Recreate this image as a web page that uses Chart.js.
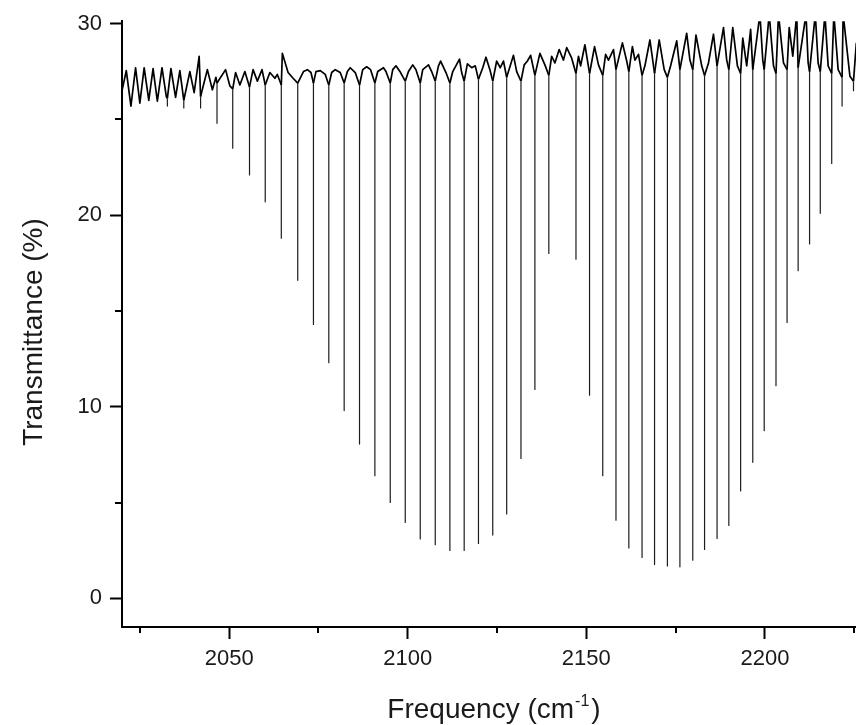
<!DOCTYPE html>
<html lang="en">
<head>
    <meta charset="UTF-8">
    <title>CO IR spectrum</title>
    <script src="https://cdn.jsdelivr.net/npm/chart.js@4.4.1/dist/chart.umd.min.js"></script>
    <style>
        * { margin: 0; padding: 0; box-sizing: border-box; }
        body { background: #fff; width: 856px; height: 725px; overflow: hidden; }
        #spectrum { display: block; }
    </style>
</head>
<body>
    <canvas id="spectrum" width="856" height="725"></canvas>

    <script>
        // Absorption lines (cm-1, % at the top of the narrow core, % at the bottom)
        const lineFreq = [2032.7, 2037.3, 2042.0, 2046.6, 2051.0, 2055.7, 2060.1, 2064.6, 2069.2, 2073.6,
            2077.9, 2082.2, 2086.5, 2090.8, 2095.1, 2099.3, 2103.5, 2107.7, 2111.8, 2115.8,
            2119.8, 2123.8, 2127.7, 2131.7, 2135.6, 2139.5,
            2147.1, 2150.9, 2154.6, 2158.3, 2161.9, 2165.6, 2169.1, 2172.7, 2176.2, 2179.8,
            2183.1, 2186.6, 2189.9, 2193.2, 2196.6, 2199.8, 2203.1, 2206.2, 2209.3, 2212.5,
            2215.5, 2218.7, 2221.6, 2224.8];
        const lineTop = [26.1, 26.0, 26.2, 26.9, 26.6, 26.7, 26.8, 26.8, 26.9, 26.9,
            26.8, 26.9, 26.8, 26.9, 26.9, 27.0, 26.9, 27.0, 26.9, 27.0,
            27.1, 27.0, 27.2, 27.0, 27.3, 27.3,
            27.4, 27.4, 27.3, 27.6, 27.5, 27.3, 27.4, 27.2, 27.6, 27.6,
            27.3, 27.8, 27.6, 27.4, 27.6, 27.6, 27.4, 27.6, 27.7, 27.5,
            27.5, 27.4, 27.2, 27.0];
        const lineMin = [25.7, 25.6, 25.6, 24.8, 23.5, 22.1, 20.7, 18.8, 16.6, 14.3,
            12.3, 9.8, 8.05, 6.4, 5.0, 3.96, 3.1, 2.8, 2.5, 2.5,
            2.86, 3.3, 4.4, 7.3, 10.9, 18.0,
            17.7, 10.6, 6.4, 4.08, 2.63, 2.13, 1.76, 1.69, 1.64, 1.99,
            2.55, 3.12, 3.8, 5.6, 7.1, 8.75, 11.1, 14.4, 17.1, 18.5,
            20.1, 22.7, 25.7, 26.5];

        // baseline between the lines: fringe peaks and troughs
        const fringeFreq = [2020.0, 2021.2, 2022.5, 2023.8, 2025.0, 2026.2, 2027.5, 2028.7, 2029.9, 2031.2,
            2032.4, 2033.7, 2035.0, 2036.2, 2039.0, 2040.2, 2041.6, 2043.9, 2045.3, 2046.3,
            2049.0, 2050.2, 2051.8, 2053.0, 2054.4, 2056.7, 2057.9, 2059.2, 2061.4, 2062.8,
            2063.5, 2064.9, 2066.5, 2067.9,
            2070.8, 2071.9, 2072.9, 2074.3, 2075.5, 2076.9, 2078.7, 2079.7, 2081.1, 2083.1,
            2083.9, 2085.3, 2087.4, 2088.5, 2089.6, 2091.6, 2093.2, 2093.9, 2095.8, 2096.7,
            2098.0, 2100.2, 2101.4, 2102.3, 2104.2, 2105.8, 2106.7, 2108.6, 2109.2, 2110.7,
            2112.6, 2114.5, 2115.1, 2116.7, 2117.9, 2118.9, 2121.0, 2121.9, 2123.0,
            2124.9, 2125.9, 2126.8, 2129.6, 2130.5, 2132.6, 2133.5, 2134.4, 2137.0, 2138.4,
            2140.3, 2141.2, 2142.4, 2143.6, 2144.5, 2145.9, 2147.8, 2148.4, 2149.6, 2152.3,
            2153.4, 2155.4, 2156.2, 2157.6, 2160.1, 2161.3, 2162.9, 2163.6, 2164.6, 2166.4,
            2167.8, 2170.4, 2171.8, 2173.6, 2175.3, 2178.1, 2179.0, 2180.7, 2182.3, 2184.2,
            2185.6, 2188.4, 2189.3, 2191.0, 2192.3, 2193.8, 2194.9, 2196.0, 2198.6, 2199.4,
            2201.2, 2202.4, 2203.8, 2205.2, 2206.8, 2207.8, 2208.9, 2211.5, 2212.1, 2214.1,
            2214.9, 2216.8, 2217.7, 2219.3, 2220.5, 2221.9, 2223.8, 2225.6];
        const fringeT = [26.5, 27.55, 25.7, 27.7, 25.85, 27.7, 26.0, 27.65, 25.95, 27.7,
            26.2, 27.65, 26.15, 27.55, 27.5, 26.4, 28.3, 27.6, 26.55, 27.2,
            27.6, 26.75, 27.45, 26.8, 27.5, 27.6, 27.0, 27.6, 27.45, 27.15,
            27.35, 28.45, 27.45, 27.15,
            27.5, 27.6, 27.45, 27.5, 27.55, 27.35, 27.45, 27.6, 27.45, 27.5,
            27.7, 27.45, 27.6, 27.75, 27.6, 27.5, 27.7, 27.5, 27.6, 27.8,
            27.45, 27.5, 27.85, 27.6, 27.6, 27.85, 27.5, 27.8, 28.05, 27.45,
            27.5, 28.15, 27.45, 27.9, 27.7, 27.8, 27.7, 28.25, 27.6,
            28.05, 27.7, 28.05, 28.35, 27.5, 27.85, 28.05, 28.35, 28.45, 27.85,
            28.3, 27.95, 28.65, 28.1, 28.75, 28.2, 28.3, 27.8, 28.9, 28.8,
            27.85, 28.4, 28.1, 28.65, 29.0, 28.05, 28.8, 28.1, 28.4, 27.8,
            29.15, 29.15, 27.6, 27.8, 29.1, 29.5, 28.1, 29.4, 27.8, 27.95,
            29.45, 29.8, 28.1, 29.8, 27.8, 29.25, 27.8, 29.7, 30.5, 28.1,
            30.5, 27.8, 30.5, 27.95, 29.8, 28.3, 30.5, 30.5, 27.95, 30.5,
            27.95, 30.5, 27.8, 30.5, 27.6, 30.5, 27.25, 29.0];

        // axis ticks
        const xTicks = [2050, 2100, 2150, 2200];
        const xMinorTicks = [2025, 2075, 2125, 2175, 2225];
        const yTicks = [0, 10, 20, 30];
        const yMinorTicks = [5, 15, 25];

        // merge the baseline and the line cores into one trace (k = 2 marks a line bottom)
        const trace = [];
        fringeFreq.forEach((f, i) => trace.push({ x: f, y: fringeT[i], k: 0 }));
        lineFreq.forEach((f, i) => {
            trace.push({ x: f, y: lineTop[i], k: 1 });
            trace.push({ x: f, y: lineMin[i], k: 2 });
            trace.push({ x: f, y: lineTop[i], k: 3 });
        });
        trace.sort((a, b) => a.x - b.x || a.k - b.k);

        const FONT = '"Liberation Sans", Arial, Helvetica, sans-serif';
        const inCore = ctx => trace[ctx.p0DataIndex].k === 2 || trace[ctx.p1DataIndex].k === 2;

        // minor ticks + axis titles
        const extras = {
            id: 'extras',
            afterDraw(chart) {
                const { ctx, chartArea, scales } = chart;
                ctx.save();
                ctx.strokeStyle = '#000';
                ctx.lineWidth = 2;
                ctx.beginPath();
                xMinorTicks.forEach(v => {
                    const px = Math.round(scales.x.getPixelForValue(v));
                    ctx.moveTo(px, chartArea.bottom);
                    ctx.lineTo(px, chartArea.bottom + 6);
                });
                yMinorTicks.forEach(v => {
                    const py = Math.round(scales.y.getPixelForValue(v));
                    ctx.moveTo(chartArea.left, py);
                    ctx.lineTo(chartArea.left - 7, py);
                });
                ctx.stroke();

                ctx.fillStyle = '#1a1a1a';
                ctx.textBaseline = 'alphabetic';

                // x title with superscript
                const big = '28px ' + FONT, small = '16px ' + FONT;
                const a = 'Frequency (cm', s = '-1', b = ')';
                ctx.font = big;
                const wa = ctx.measureText(a).width, wb = ctx.measureText(b).width;
                ctx.font = small;
                const ws = ctx.measureText(s).width;
                const x0 = 494 - (wa + ws + wb + 3) / 2;
                const yb = 718;
                ctx.font = big;
                ctx.fillText(a, x0, yb);
                ctx.font = small;
                ctx.fillText(s, x0 + wa + 1, yb - 12);
                ctx.font = big;
                ctx.fillText(b, x0 + wa + ws + 3, yb);

                // y title
                ctx.translate(42, 332);
                ctx.rotate(-Math.PI / 2);
                ctx.textAlign = 'center';
                ctx.font = big;
                ctx.fillText('Transmittance (%)', 0, 0);
                ctx.restore();
            }
        };

        new Chart(document.getElementById('spectrum'), {
            type: 'line',
            data: {
                datasets: [{
                    data: trace,
                    borderColor: '#000',
                    borderWidth: 1.7,
                    borderJoinStyle: 'round',
                    pointRadius: 0,
                    tension: 0,
                    fill: false,
                    segment: {
                        borderWidth: ctx => inCore(ctx) ? 1.2 : 1.7,
                        borderColor: ctx => inCore(ctx) ? '#1c1c1c' : '#000'
                    }
                }]
            },
            options: {
                responsive: false,
                animation: false,
                events: [],
                layout: { padding: { top: 21, right: 0, left: 0, bottom: 0 } },
                plugins: { legend: { display: false }, tooltip: { enabled: false } },
                scales: {
                    x: {
                        type: 'linear',
                        min: 2020,
                        max: 2225.5,
                        afterBuildTicks: s => { s.ticks = xTicks.map(v => ({ value: v })); },
                        afterFit: s => { s.height = 98; },
                        border: { display: true, color: '#000', width: 2 },
                        grid: { drawOnChartArea: false, tickLength: 12, tickWidth: 2, tickColor: '#000' },
                        ticks: {
                            padding: 7,
                            maxRotation: 0,
                            color: '#1a1a1a',
                            font: { size: 22, family: FONT },
                            callback: v => String(v)
                        }
                    },
                    y: {
                        type: 'linear',
                        min: -1.5,
                        max: 30.13,
                        afterBuildTicks: s => { s.ticks = yTicks.map(v => ({ value: v })); },
                        afterFit: s => { s.width = 122; },
                        border: { display: true, color: '#000', width: 2 },
                        grid: { drawOnChartArea: false, tickLength: 12, tickWidth: 2, tickColor: '#000' },
                        ticks: {
                            padding: 8,
                            color: '#1a1a1a',
                            font: { size: 22, family: FONT },
                            callback: v => String(v)
                        }
                    }
                }
            },
            plugins: [extras]
        });
    </script>
</body>
</html>
